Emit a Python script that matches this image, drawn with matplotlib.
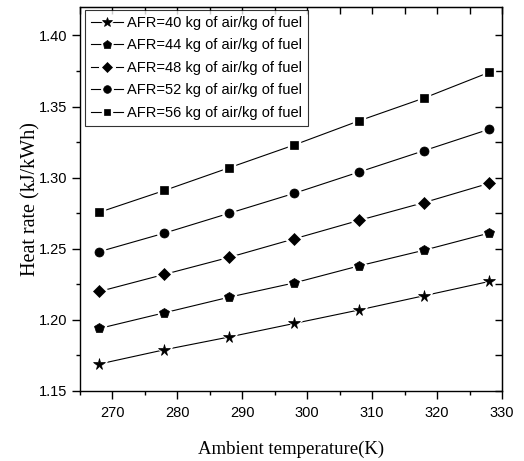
import matplotlib
matplotlib.use("Agg")
import matplotlib.pyplot as plt
from matplotlib.legend_handler import HandlerTuple
from matplotlib.ticker import MultipleLocator, NullFormatter

temperature = [268, 278, 288, 298, 308, 318, 328]
afr40 = [1.169, 1.179, 1.188, 1.1975, 1.207, 1.217, 1.227]
afr44 = [1.194, 1.205, 1.216, 1.226, 1.238, 1.249, 1.261]
afr48 = [1.220, 1.232, 1.244, 1.257, 1.270, 1.2825, 1.296]
afr52 = [1.248, 1.261, 1.275, 1.289, 1.304, 1.319, 1.334]
afr56 = [1.2757, 1.291, 1.307, 1.323, 1.340, 1.356, 1.374]
labels = ["AFR=40 kg of air/kg of fuel", "AFR=44 kg of air/kg of fuel",
          "AFR=48 kg of air/kg of fuel", "AFR=52 kg of air/kg of fuel",
          "AFR=56 kg of air/kg of fuel"]
series = [afr40, afr44, afr48, afr52, afr56]
markers = ["*", "p", "D", "o", "s"]
msizes = [8.5, 7.5, 6.3, 6.5, 5.8]
x_ticks = [270, 280, 290, 300, 310, 320, 330]
y_ticks = [1.15, 1.20, 1.25, 1.30, 1.35, 1.40]

sans = ["Liberation Sans Narrow", "Liberation Sans", "DejaVu Sans"]
serif = ["Liberation Serif", "DejaVu Serif"]
plt.rcParams["font.family"] = sans

fig = plt.figure(figsize=(5.24, 4.61), dpi=100)
ax = fig.add_axes([80/524, 1-391/461, (502-80)/524, (391-7)/461])

handles = []
for ys, m, ms in zip(series, markers, msizes):
    ln, = ax.plot(temperature, ys, "-", color="black", lw=0.8, zorder=2)
    wm, = ax.plot(temperature, ys, linestyle="none", marker=m, ms=ms + 3.2,
                  color="white", mec="white", zorder=3)
    bm, = ax.plot(temperature, ys, linestyle="none", marker=m, ms=ms,
                  color="black", mec="black", mew=0.5, zorder=4)
    handles.append((ln, wm, bm))

ax.set_xlim(265, 330)
ax.set_ylim(1.15, 1.42)
ax.set_xticks(x_ticks)
ax.set_yticks(y_ticks)
ax.set_yticklabels([f"{v:.2f}" for v in y_ticks])
ax.xaxis.set_minor_locator(MultipleLocator(5))
ax.yaxis.set_minor_locator(MultipleLocator(0.025))
ax.tick_params(which="major", direction="out", length=6, width=1.0,
               labelsize=10.5, pad=3)
ax.tick_params(axis="x", which="major", pad=5)
ax.tick_params(which="minor", direction="out", length=3, width=1.0)
for s in ax.spines.values():
    s.set_linewidth(1.0)

# inward ticks on top and right
secx = ax.secondary_xaxis("top")
secx.set_xticks(x_ticks)
secx.xaxis.set_minor_locator(MultipleLocator(5))
secx.xaxis.set_major_formatter(NullFormatter())
secx.tick_params(which="both", direction="in", length=5, width=1.0)
secy = ax.secondary_yaxis("right")
secy.set_yticks(y_ticks)
secy.yaxis.set_minor_locator(MultipleLocator(0.025))
secy.yaxis.set_major_formatter(NullFormatter())
secy.tick_params(which="both", direction="in", length=5, width=1.0)

ax.set_xlabel("Ambient temperature(K)", family=serif, fontsize=13.5, labelpad=15)
ax.set_ylabel("Heat rate (kJ/kWh)", family=serif, fontsize=14.5, labelpad=-1)

leg = ax.legend(handles, labels,
                handler_map={tuple: HandlerTuple(ndivide=1, pad=0)},
                loc="upper left", bbox_to_anchor=(5/422, 1-3/384),
                borderaxespad=0, fontsize=10.5, frameon=True, fancybox=False,
                handlelength=2.2, handletextpad=0.25, labelspacing=0.58,
                borderpad=0.4, markerscale=0.85)
leg.get_frame().set_edgecolor("black")
leg.get_frame().set_linewidth(0.8)

fig.savefig("out.png", dpi=100)
